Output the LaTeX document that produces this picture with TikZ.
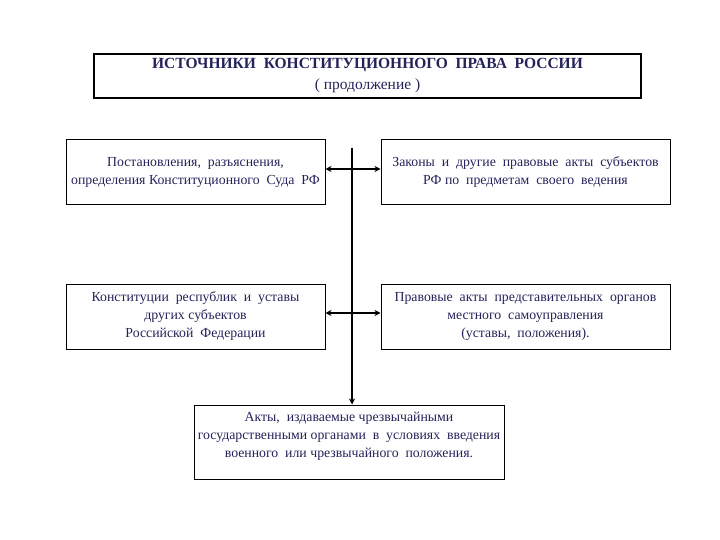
\documentclass[tikz,border=0pt]{standalone}
\usepackage{fontspec}
\setmainfont{Liberation Serif}
\usetikzlibrary{arrows.meta}
\definecolor{txt}{RGB}{35,35,90}
\begin{document}
\begin{tikzpicture}[x=1pt,y=-1pt,
  box/.style={draw=black,line width=1pt,inner sep=0pt,text=txt,align=center,font=\fontsize{13.8}{18}\selectfont},
  link/.style={line width=1.6pt,-{Stealth[length=6pt,width=6pt]}},
  both/.style={line width=1.3pt,{Stealth[length=6pt,width=6pt]}-{Stealth[length=6pt,width=6pt]}}]
\useasboundingbox (0,0) rectangle (720,540);
\node[box,line width=2pt,minimum width=547pt,minimum height=44pt,font=\fontsize{15.5}{21}\selectfont] (t) at (367.5,76)
  {\textbf{ИСТОЧНИКИ\ \ КОНСТИТУЦИОННОГО\ \ ПРАВА\ \ РОССИИ}\\( продолжение )};
\node[box,minimum width=259pt,minimum height=65pt] (b1) at (195.5,172.5)
  {Постановления,\ \ разъяснения,\\определения Конституционного\ \ Суда\ \ РФ};
\node[box,minimum width=289pt,minimum height=65pt] (b2) at (525.5,172.5)
  {Законы\ \ и\ \ другие\ \ правовые\ \ акты\ \ субъектов\\РФ по\ \ предметам\ \ своего\ \ ведения};
\node[box,minimum width=259pt,minimum height=65pt] (b3) at (195.5,316.5)
  {Конституции\ \ республик\ \ и\ \ уставы\\других субъектов\\Российской\ \ Федерации};
\node[box,minimum width=289pt,minimum height=65pt] (b4) at (525.5,316.5)
  {Правовые\ \ акты\ \ представительных\ \ органов\\местного\ \ самоуправления\\(уставы,\ \ положения).};
\node[box,minimum width=310pt,minimum height=74pt] (b5) at (349,442)
  {Акты,\ \ издаваемые чрезвычайными\\государственными органами\ \ в\ \ условиях\ \ введения\\военного\ \ или чрезвычайного\ \ положения.\\[-3pt]};
\coordinate (top) at (352,148);
\coordinate (j1) at (352,169);
\coordinate (j2) at (352,313);
\draw[link] (top) -- (top |- b5.north);
\draw[both] (b1.east |- j1) -- (b2.west |- j1);
\draw[both] (b3.east |- j2) -- (b4.west |- j2);
\end{tikzpicture}
\end{document}
